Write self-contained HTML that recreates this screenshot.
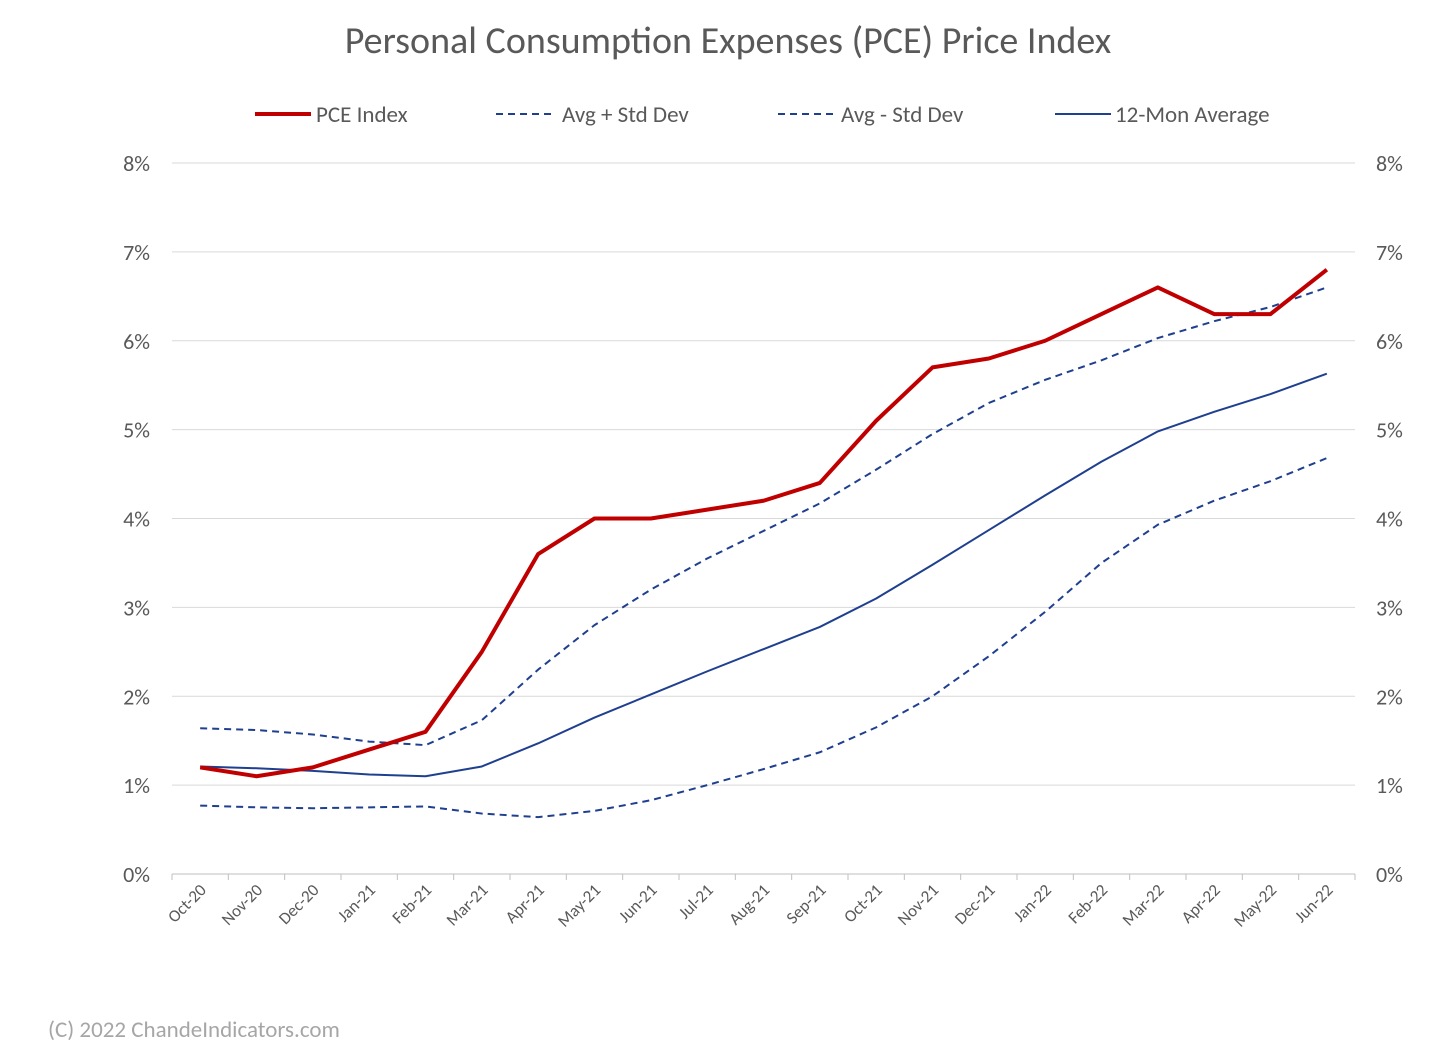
<!DOCTYPE html>
<html><head><meta charset="utf-8"><style>
body{margin:0;background:#fff;}
svg text{font-family:"Carlito","Liberation Sans",sans-serif;fill:#595959;}
</style></head><body>
<svg id="chart" width="1456" height="1057" xmlns="http://www.w3.org/2000/svg">
<text x="728" y="53" text-anchor="middle" font-size="38">Personal Consumption Expenses (PCE) Price Index</text>
<g id="legend">
<g><line x1="255" y1="114" x2="311" y2="114" stroke="#C00000" stroke-width="4"/><text x="316" y="122" font-size="23">PCE Index</text></g>
<g><line x1="496" y1="114" x2="556" y2="114" stroke="#1F3F8F" stroke-width="2" stroke-dasharray="7,5"/><text x="562" y="122" font-size="23">Avg + Std Dev</text></g>
<g><line x1="778" y1="114" x2="838" y2="114" stroke="#1F3F8F" stroke-width="2" stroke-dasharray="7,5"/><text x="841" y="122" font-size="23">Avg - Std Dev</text></g>
<g><line x1="1055" y1="114" x2="1111" y2="114" stroke="#1F3F8F" stroke-width="2"/><text x="1115" y="122" font-size="23">12-Mon Average</text></g>
</g>
<g id="grid"></g><g id="axes"></g><g id="series"></g>
<text x="48" y="1037" font-size="23" style="fill:#A6A6A6">(C) 2022 ChandeIndicators.com</text>
</svg>
<script>
const categories=["Oct-20","Nov-20","Dec-20","Jan-21","Feb-21","Mar-21","Apr-21","May-21","Jun-21","Jul-21","Aug-21","Sep-21","Oct-21","Nov-21","Dec-21","Jan-22","Feb-22","Mar-22","Apr-22","May-22","Jun-22"];
const pceIndex=[1.2,1.1,1.2,1.4,1.6,2.5,3.6,4.0,4.0,4.1,4.2,4.4,5.1,5.7,5.8,6.0,6.3,6.6,6.3,6.3,6.8];
const avgPlusStd=[1.64,1.62,1.57,1.49,1.45,1.73,2.3,2.8,3.2,3.55,3.86,4.17,4.55,4.95,5.3,5.56,5.78,6.03,6.22,6.38,6.6];
const avgMinusStd=[0.77,0.75,0.74,0.75,0.76,0.68,0.64,0.71,0.83,1.0,1.18,1.37,1.65,2.0,2.45,2.95,3.5,3.93,4.2,4.42,4.68];
const avg12=[1.21,1.19,1.16,1.12,1.10,1.21,1.47,1.76,2.02,2.28,2.53,2.78,3.10,3.48,3.87,4.26,4.64,4.98,5.2,5.4,5.63];
const yTicks=[0,1,2,3,4,5,6,7,8];
const NS="http://www.w3.org/2000/svg";
const L=172,R=1355,T=163,B=874,yMax=8;
const step=(R-L)/categories.length;
const xs=i=>L+step*(i+0.5);
const ys=v=>B-(v/yMax)*(B-T);
function mk(tag,attrs,parent){const e=document.createElementNS(NS,tag);for(const k in attrs)e.setAttribute(k,attrs[k]);parent.appendChild(e);return e;}
const grid=document.getElementById('grid'),axes=document.getElementById('axes'),series=document.getElementById('series');
yTicks.forEach(t=>{
 const y=ys(t);
 const g=mk('line',{x1:L,x2:R,y1:y,y2:y,stroke:t===0?'#BFBFBF':'#D9D9D9','stroke-width':1},grid);
 
 
 const a=mk('text',{x:150,y:y+8,'text-anchor':'end','font-size':22},axes);a.textContent=t+'%';
 
 
 const b=mk('text',{x:1376,y:y+8,'font-size':22},axes);b.textContent=t+'%';
 
 
});
for(let i=0;i<=categories.length;i++){
 const x=L+step*i;
 const tk=mk('line',{x1:x,x2:x,y1:B,y2:B+6,stroke:'#BFBFBF'},axes);
 
 
}
categories.forEach((c,i)=>{
 const x=xs(i)+7,y=B+17;
 const t=mk('text',{x:x,y:y,'text-anchor':'end','font-size':17,transform:`rotate(-45 ${x} ${y})`},axes);
 t.textContent=c;
 
 
});
function line(data,color,w,dash,name){
 const p=mk('polyline',{points:data.map((v,i)=>xs(i)+','+ys(v)).join(' '),fill:'none',stroke:color,'stroke-width':w,'stroke-linejoin':'round'},series);
 if(dash)p.setAttribute('stroke-dasharray',dash);
 
 
}
line(avgMinusStd,'#1F3F8F',2,'7,5','series-avg-minus-std');
line(avgPlusStd,'#1F3F8F',2,'7,5','series-avg-plus-std');
line(avg12,'#1F3F8F',2,null,'series-12mon-avg');
line(pceIndex,'#C00000',4,null,'series-pce-index');
</script>
</body></html>
